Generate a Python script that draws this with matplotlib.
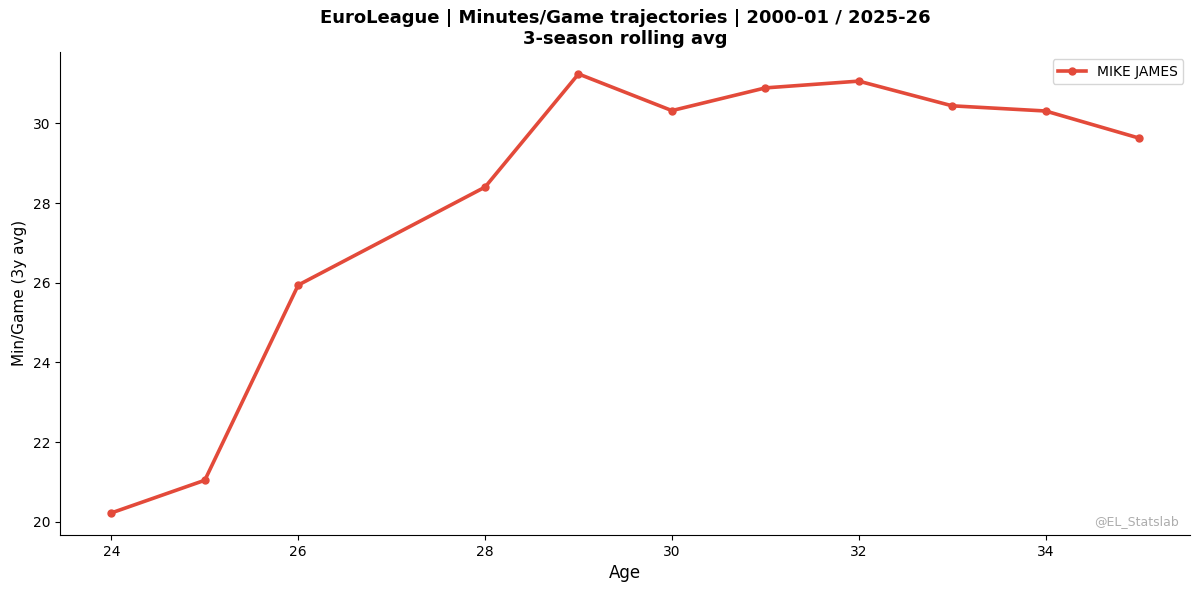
import matplotlib
matplotlib.use("Agg")
import matplotlib.pyplot as plt

ages = [24, 25, 26, 28, 29, 30, 31, 32, 33, 34, 35]
minutes = [20.22, 21.04, 25.94, 28.40, 31.24, 30.32, 30.89, 31.06, 30.44, 30.31, 29.63]
player = "MIKE JAMES"
title = "EuroLeague | Minutes/Game trajectories | 2000-01 / 2025-26\n3-season rolling avg"

fig, ax = plt.subplots(figsize=(12, 5.91), dpi=100)
fig.subplots_adjust(left=0.05, right=0.992, bottom=0.095, top=0.912)
ax.plot(ages, minutes, color="#e34a3a", linewidth=2.6, marker="o", markersize=5, label=player)
ax.set_title(title, fontsize=13, fontweight="bold")
ax.set_xlabel("Age", fontsize=12)
ax.set_ylabel("Min/Game (3y avg)", fontsize=11)
ax.tick_params(labelsize=10)
ax.spines["top"].set_visible(False)
ax.spines["right"].set_visible(False)
ax.legend(loc="upper right", fontsize=10)
ax.text(0.99, 0.015, "@EL_Statslab", transform=ax.transAxes, ha="right", va="bottom",
        fontsize=9, color="#999999", alpha=0.8)
fig.savefig("out.png", dpi=100)
